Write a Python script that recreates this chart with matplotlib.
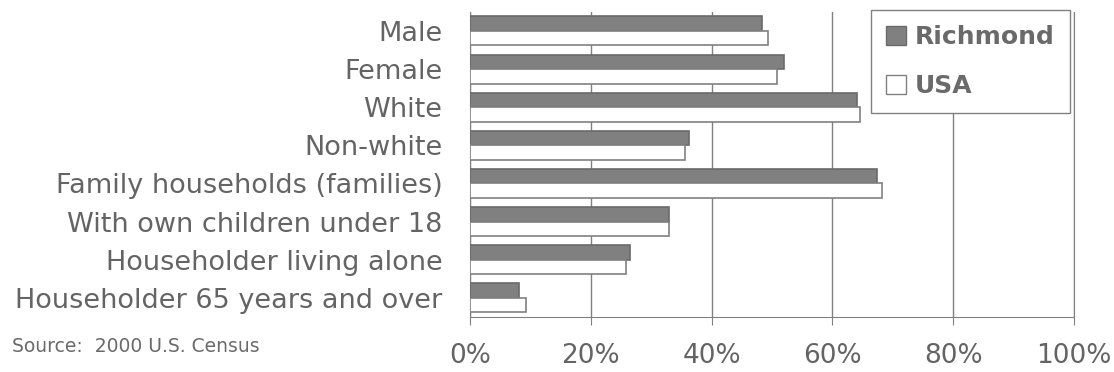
import numpy as np
import matplotlib.pyplot as plt
from matplotlib.patches import Patch

categories = ['Male', 'Female', 'White', 'Non-white', 'Family households (families)',
              'With own children under 18', 'Householder living alone',
              'Householder 65 years and over']
richmond = [48.3, 52.0, 64.1, 36.3, 67.4, 33.0, 26.5, 8.1]
usa = [49.3, 50.8, 64.6, 35.6, 68.2, 33.0, 25.8, 9.2]
xticks = [0, 20, 40, 60, 80, 100]
xlabels = ['0%', '20%', '40%', '60%', '80%', '100%']

TEXT = '#646464'
GRID = '#808080'

fig = plt.figure(figsize=(11.14, 3.72), dpi=100)
ax = fig.add_axes([0.422, 0.148, 0.542, 0.82])

y = np.arange(len(categories))
h = 0.38
ax.barh(y - h / 2, richmond, height=h, color='#808080', edgecolor='#6a6a6a', linewidth=1.2, zorder=3)
ax.barh(y + h / 2, usa, height=h, color='white', edgecolor='#808080', linewidth=1.2, zorder=3)

ax.set_ylim(len(categories) - 0.5, -0.5)
ax.set_xlim(0, 100)
ax.set_yticks(y)
ax.set_yticklabels(categories, fontsize=19.5, color=TEXT)
ax.set_xticks(xticks)
ax.set_xticklabels(xlabels, fontsize=19, color=TEXT)
ax.tick_params(axis='y', length=0, pad=20)
ax.tick_params(axis='x', length=6, color=GRID, pad=13, direction='out')

ax.grid(axis='x', color=GRID, linewidth=1, zorder=0)
ax.spines['top'].set_visible(False)
for s in ['left', 'bottom', 'right']:
    ax.spines[s].set_color(GRID)

#legend box in the top right corner
handles = [Patch(facecolor='#808080', edgecolor='#6a6a6a', label='Richmond'),
           Patch(facecolor='white', edgecolor='#808080', label='USA')]
leg = ax.legend(handles=handles, loc='upper right', bbox_to_anchor=(0.993, 1.007),
                prop={'weight': 'bold', 'size': 18}, labelcolor='#6a6a6a',
                frameon=True, fancybox=False, framealpha=1, edgecolor=GRID, borderpad=0.6,
                labelspacing=1.0, handlelength=0.8, handleheight=0.8, handletextpad=0.35,
                borderaxespad=0)
leg.get_frame().set_linewidth(1)
leg.set_zorder(5)

fig.text(0.011, 0.054, 'Source:  2000 U.S. Census', fontsize=13.5, color='#6a6a6a')

fig.savefig('out.png', dpi=100)
